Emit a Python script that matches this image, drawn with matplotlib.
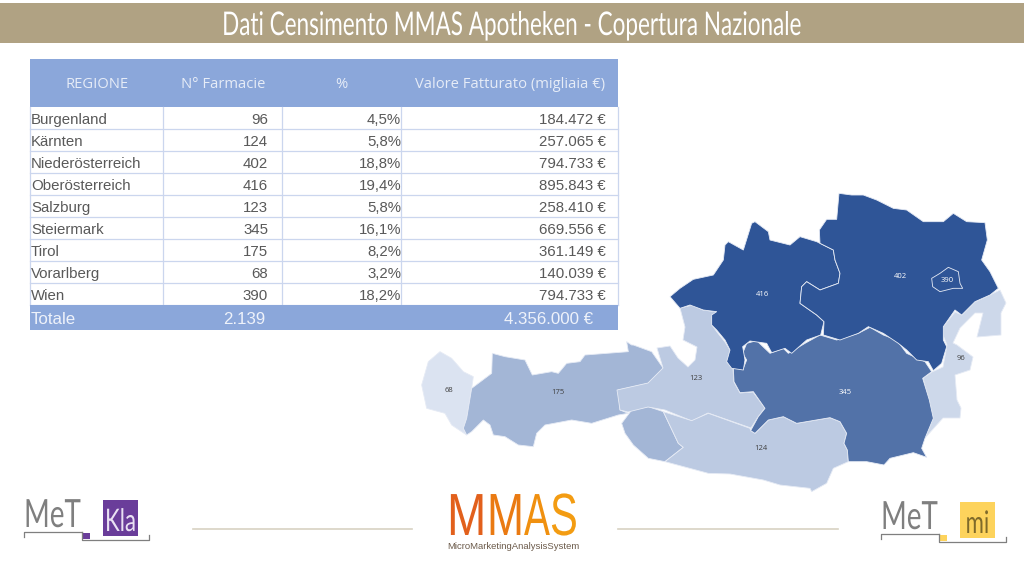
import matplotlib
matplotlib.use('Agg')
import matplotlib.pyplot as plt
from matplotlib.patches import Polygon, Rectangle
from matplotlib.patheffects import AbstractPathEffect
from matplotlib.transforms import Affine2D

BAND = '#b0a283'
BLUE = '#8ba7da'
GRID = '#cbd6ee'
TEXT = '#595959'

TITLE = 'Dati Censimento MMAS Apotheken - Copertura Nazionale'
HEADERS = ['REGIONE', 'N° Farmacie', '%', 'Valore Fatturato (migliaia €)']
REGIONS = ['Burgenland', 'Kärnten', 'Niederösterreich', 'Oberösterreich', 'Salzburg',
           'Steiermark', 'Tirol', 'Vorarlberg', 'Wien']
FARMACIE = ['96', '124', '402', '416', '123', '345', '175', '68', '390']
PERCENT = ['4,5%', '5,8%', '18,8%', '19,4%', '5,8%', '16,1%', '8,2%', '3,2%', '18,2%']
VALORE = ['184.472 €', '257.065 €', '794.733 €', '895.843 €', '258.410 €',
          '669.556 €', '361.149 €', '140.039 €', '794.733 €']
TOTALE = ['Totale', '2.139', '4.356.000 €']


def crop(x0, y0, pts):
    return [(x0 + x / 3, y0 + y / 3) for x, y in pts]


OBER = crop(660, 180, [(30, 350), (60, 325), (100, 298), (160, 285), (190, 240), (195, 195), (205, 185),
                       (250, 210), (275, 130), (285, 125), (325, 155), (330, 180), (390, 195), (420, 170),
                       (470, 185), (480, 190), (520, 210), (525, 240), (540, 280), (535, 310), (480, 330),
                       (440, 305), (425, 320), (420, 370), (470, 405), (492, 425), (482, 465), (440, 480),
                       (395, 520), (375, 505), (335, 518), (320, 490), (270, 483), (248, 500), (255, 540),
                       (250, 570), (215, 565), (200, 545), (210, 510), (195, 480), (170, 450), (155, 435),
                       (155, 405), (170, 395), (130, 390), (90, 375), (60, 385)])
NIEDER = crop(660, 180, [(480, 190), (478, 150), (500, 118), (530, 118), (537, 40), (575, 45), (610, 45),
                         (650, 60), (700, 85), (740, 90), (790, 125), (850, 125), (880, 100), (920, 125),
                         (975, 128), (982, 180), (965, 240), (990, 275), (1015, 325), (990, 345), (945, 365),
                         (905, 405), (885, 390), (850, 440), (850, 480), (860, 500), (845, 550), (820, 572),
                         (805, 545), (770, 540), (740, 510), (715, 490), (670, 460), (625, 440), (595, 460),
                         (540, 480), (490, 465), (492, 425), (470, 405), (420, 370), (425, 320), (440, 305),
                         (480, 330), (535, 310), (540, 280), (525, 240), (520, 210)])
WIEN = crop(660, 180, [(815, 295), (840, 280), (865, 262), (895, 275), (900, 310), (908, 325), (880, 325),
                       (840, 335), (818, 320)])
BURGEN = [(943, 327), (955, 312), (962, 315), (975, 302), (990, 295), (1000, 290), (1006, 303), (1001, 313),
          (1001, 335), (977, 337), (983, 313), (975, 313), (960, 328), (953, 343), (957, 345), (973, 357),
          (970, 370), (955, 375), (957, 400), (961, 408), (960, 418), (943, 418), (925, 438), (933, 418),
          (923, 378), (932, 372), (943, 367), (947, 345), (941, 330)]
STEIER = crop(730, 320, [(10, 145), (40, 145), (50, 120), (38, 100), (50, 70), (80, 62), (120, 100), (160, 85),
                         (175, 100), (225, 70), (270, 45), (320, 60), (385, 40), (420, 22), (460, 45), (500, 60),
                         (530, 100), (585, 125), (605, 155), (578, 175), (598, 240), (610, 295), (585, 355),
                         (575, 385), (590, 412), (550, 398), (480, 415), (462, 435), (410, 425), (355, 425),
                         (352, 390), (342, 370), (350, 340), (330, 305), (300, 293), (200, 310), (160, 290),
                         (115, 300), (75, 340), (62, 332), (85, 290), (105, 265), (70, 215), (30, 218), (12, 185)])
SALZ = [(680, 308), (693, 305), (703, 310), (717, 312), (712, 317), (712, 325), (717, 332), (725, 342), (730, 350),
        (727, 362), (733, 369), (734, 382), (740, 393), (753, 392), (765, 408), (758, 417), (751, 428), (708, 413),
        (692, 421), (665, 410), (648, 407), (628, 412), (620, 410), (617, 390), (648, 383), (663, 368), (657, 348),
        (670, 346), (678, 358), (688, 367), (695, 360), (697, 347), (683, 340), (685, 327)]
TIROL = crop(415, 330, [(145, 295), (155, 265), (170, 175), (230, 130), (232, 70), (270, 80), (330, 90), (352, 135),
                        (410, 125), (430, 130), (455, 100), (495, 95), (510, 75), (640, 65), (635, 35), (650, 45),
                        (655, 45), (710, 65), (745, 115), (700, 160), (610, 180), (615, 240), (640, 250), (610, 255),
                        (530, 280), (470, 270), (390, 285), (365, 310), (355, 350), (310, 345), (270, 320),
                        (235, 315), (225, 285), (205, 270), (170, 305), (155, 315)])
OSTTIROL = crop(415, 330, [(620, 280), (650, 240), (700, 230), (745, 245), (790, 340), (805, 352), (750, 395),
                           (700, 385), (655, 345), (630, 310)])
KAERNTEN = crop(415, 330, [(745, 245), (830, 272), (880, 250), (1005, 295)]) + \
    crop(730, 320, [(62, 332), (75, 340), (115, 300), (160, 290), (200, 310), (300, 293), (330, 305), (350, 340),
                    (342, 370), (352, 390), (355, 425), (310, 445), (290, 490), (245, 515), (240, 505), (150, 495),
                    (100, 480), (0, 462)]) + \
    crop(415, 330, [(880, 430), (750, 395), (805, 352), (790, 340)])
VORARL = crop(415, 330, [(20, 165), (40, 95), (75, 65), (110, 85), (145, 125), (175, 140), (170, 175), (155, 265),
                         (145, 295), (155, 315), (110, 285), (90, 250), (35, 235)])

SHAPES = [(VORARL, '#dbe3f1'), (TIROL, '#a3b6d6'), (OSTTIROL, '#a3b6d6'), (SALZ, '#bccae2'),
          (KAERNTEN, '#bccae2'), (BURGEN, '#cdd8ea'), (STEIER, '#5272a8'), (OBER, '#2f5597'),
          (NIEDER, '#2f5597'), (WIEN, '#2f5597')]
MAP_LABELS = [('416', 763, 294, 'white'), ('402', 900, 276, 'white'), ('390', 947, 281, 'white'),
              ('345', 845, 392, 'white'), ('96', 961, 358, '#404040'), ('124', 761, 449, '#404040'),
              ('123', 696, 379, '#404040'), ('175', 558, 393, '#404040'), ('68', 449, 391, '#404040')]


class Tall(AbstractPathEffect):
    # the reference uses condensed lettering: same width, stretched upward from the baseline
    def __init__(self, sy):
        super().__init__()
        self.sy = sy

    def draw_path(self, renderer, gc, tpath, affine, rgbFace=None):
        renderer.draw_path(gc, tpath, Affine2D().scale(1, self.sy) + affine, rgbFace)


fig = plt.figure(figsize=(10.24, 5.76), dpi=100)
ax = fig.add_axes([0, 0, 1, 1])
ax.set_xlim(0, 1024)
ax.set_ylim(576, 0)
ax.axis('off')

# title band
ax.add_patch(Rectangle((0, 3), 1024, 40, color=BAND, lw=0))
ax.text(512, 35, TITLE, color='white', ha='center', va='baseline', fontsize=16.2,
        family='Lato', path_effects=[Tall(1.45)])

# table
cols = [30, 163, 282, 401, 618]
top, row_h = 107, 22
ax.add_patch(Rectangle((30, 59), 588, 48, color=BLUE, lw=0))
for h, cx in zip(HEADERS, [97, 223, 341, 510]):
    ax.text(cx, 84, h, color='#e6ecf7', ha='center', va='center', fontsize=10.6, family='Open Sans')
for i, (reg, n, pct, val) in enumerate(zip(REGIONS, FARMACIE, PERCENT, VALORE)):
    y = top + row_h * (i + 0.5) + 2
    ax.text(31, y, reg, color=TEXT, va='center', fontsize=10.8, family='Liberation Sans')
    ax.text(268, y, n, color=TEXT, ha='right', va='center', fontsize=10.8, family='Liberation Sans')
    ax.text(401, y, pct, color=TEXT, ha='right', va='center', fontsize=10.8, family='Liberation Sans')
    ax.text(606, y, val, color=TEXT, ha='right', va='center', fontsize=10.8, family='Liberation Sans')
    ax.plot([30, 618], [top + row_h * (i + 1)] * 2, color=GRID, lw=0.9)
for x in cols:
    ax.plot([x, x], [top, top + row_h * len(REGIONS)], color=GRID, lw=0.9)
ax.add_patch(Rectangle((30, 305), 588, 25, color=BLUE, lw=0, zorder=3))
for s, x, ha in zip(TOTALE, [31, 265, 593], ['left', 'right', 'right']):
    ax.text(x, 320, s, color='#eef2fa', ha=ha, va='center', fontsize=12.2,
            family='Liberation Sans', zorder=4)

# map
for pts, col in SHAPES:
    ax.add_patch(Polygon(pts, closed=True, facecolor=col, edgecolor='#e6ebf5', lw=0.6, joinstyle='round'))
for s, x, y, col in MAP_LABELS:
    ax.text(x, y, s, color=col, ha='center', va='center', fontsize=5.5, family='Open Sans')

# footer rules
ax.plot([193, 412], [529, 529], color='#d8d2c2', lw=1.2)
ax.plot([618, 838], [529, 529], color='#d8d2c2', lw=1.2)


def met_logo(x, dy, box_col, box_text, text_col):
    ax.text(x, 527 + dy, 'MeT', color='#7f7f7f', va='baseline', fontsize=20, family='Lato',
            path_effects=[Tall(1.4)])
    ax.add_patch(Rectangle((x + 79, 500 + dy), 35, 36, color=box_col, lw=0))
    ax.text(x + 96.5, 531 + dy, box_text, color=text_col, ha='center', va='baseline', fontsize=16,
            family='Lato', path_effects=[Tall(1.4)])
    ax.plot([x, x, x + 58], [537 + dy, 532 + dy, 532 + dy], color='#7f7f7f', lw=0.9)
    ax.plot([x + 58, x + 58, x + 125, x + 125], [532 + dy, 540 + dy, 540 + dy, 535 + dy], color='#7f7f7f', lw=0.9)
    ax.add_patch(Rectangle((x + 58, 533 + dy), 8, 6, color=box_col, lw=0))


met_logo(24, 0, '#6a3d9a', 'Kla', '#e9e0f3')
met_logo(881, 2, '#fdd35c', 'mi', '#7f6a2a')

# MMAS logo, letters brought to one height
for s, x, size, tall, col in zip('MMAS', [447, 487, 524, 550], [34, 32, 28, 30], [1.26, 1.34, 1.53, 1.43],
                                 ['#e2601c', '#ea7a12', '#f0900f', '#f39c12']):
    ax.text(x, 535, s, color=col, va='baseline', fontsize=size, family='Liberation Sans',
            path_effects=[Tall(tall)])

ax.text(447, 549, 'MicroMarketingAnalysisSystem', color='#6b5a4a', va='baseline', fontsize=6.8,
        family='Liberation Sans')

fig.savefig('out.png', dpi=100)
